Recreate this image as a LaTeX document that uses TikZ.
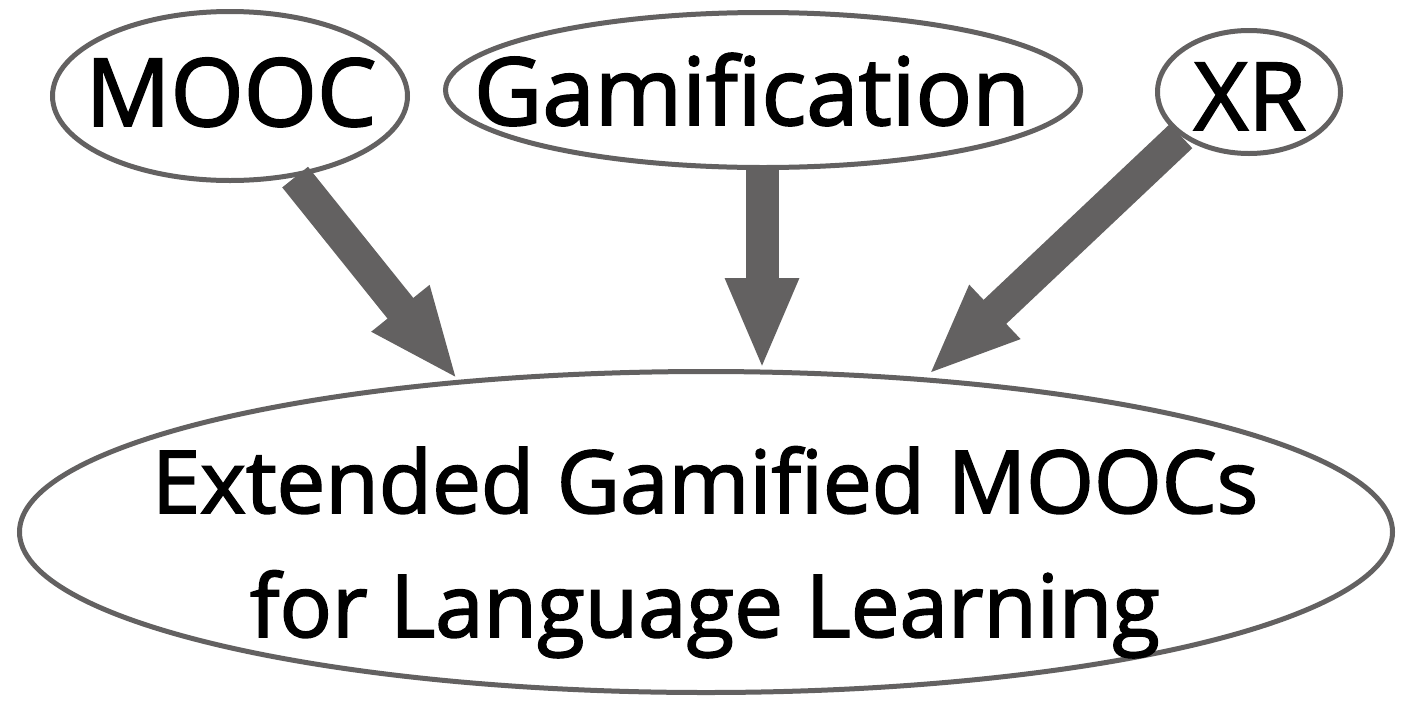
\documentclass[tikz,border=0pt]{standalone}
\usepackage{fontspec}
\setmainfont{Open Sans}[FakeBold=2]
\usetikzlibrary{shapes.geometric,arrows.meta}
\definecolor{edgegray}{RGB}{99,97,97}
\begin{document}
\begin{tikzpicture}[x=1pt,y=-1pt,
  bubble/.style={ellipse, draw=edgegray, line width=5pt, fill=white, inner sep=0pt},
  toptext/.style={font=\fontsize{94}{110}\selectfont, inner sep=0pt, anchor=base},
  maintext/.style={font=\fontsize{87}{124}\selectfont, inner sep=0pt, anchor=base},
  flow/.style={draw=edgegray, fill=edgegray, line width=33pt,
    -{Triangle[width=67pt,length=92pt]}}]
  \useasboundingbox (0,0) rectangle (1410,702);

  % ellipses
  \node[bubble, minimum width=355pt, minimum height=169pt] (mooc) at (230,96) {};
  \node[bubble, minimum width=635pt, minimum height=155pt] (gam) at (763,90) {};
  \node[bubble, minimum width=183pt, minimum height=123pt] (xr) at (1249,92) {};
  \node[bubble, minimum width=1373pt, minimum height=321pt] (ext) at (706,532) {};

  % labels
  \node[toptext] (tmooc) at (231,126) {MOOC};
  \node[toptext] (tgam) at (752,125) {Gamification};
  \node[toptext] (txr) at (1250,130) {XR};
  \node[maintext] (tline1) at (705,513) {Extended Gamified MOOCs};
  \node[maintext] (tline2) at (705,637) {for Language Learning};

  % arrow tips on the rim of the big ellipse
  \coordinate (tipA) at (458,380);
  \coordinate (tipB) at (762,370);
  \coordinate (tipC) at (928,375);

  \draw[flow] (mooc) -- (tipA);
  \draw[flow] (tipB |- gam.south) -- (tipB);
  \draw[flow] (xr.213) -- (tipC);
\end{tikzpicture}
\end{document}
